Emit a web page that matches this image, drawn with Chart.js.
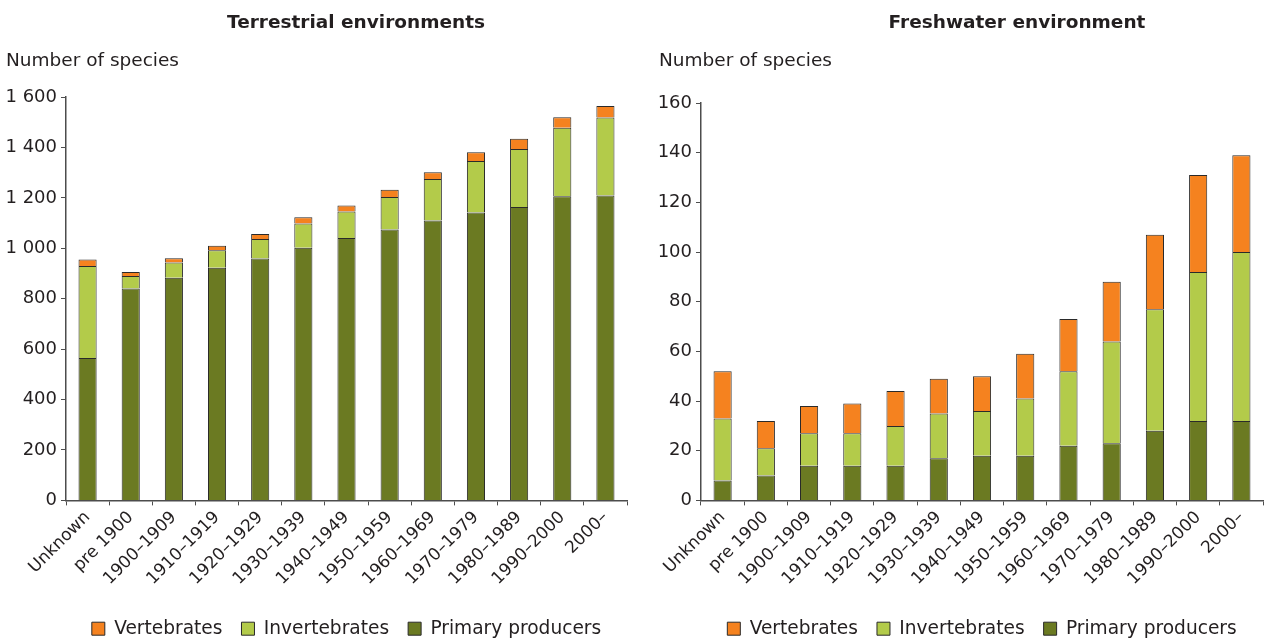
<!DOCTYPE html>
<html>
<head>
<meta charset="utf-8">
<script src="https://cdn.jsdelivr.net/npm/chart.js@4.4.1/dist/chart.umd.min.js"></script>
<style>
  html, body { margin: 0; padding: 0; background: #fff; }
  #wrap { position: relative; width: 1264px; height: 639px; }
  .box { position: absolute; top: 0; height: 639px; }
  #left { left: 0; width: 640px; }
  #right { left: 640px; width: 624px; }
</style>
</head>
<body>
<div id="wrap">
  <div class="box" id="left"><canvas id="terrestrialChart"></canvas></div>
  <div class="box" id="right"><canvas id="freshwaterChart"></canvas></div>
</div>
<script>
// Categories (decade of first record)
const periods = ['Unknown', 'pre 1900', '1900–1909', '1910–1919', '1920–1929', '1930–1939',
    '1940–1949', '1950–1959', '1960–1969', '1970–1979', '1980–1989', '1990–2000', '2000–'];

// Terrestrial environments (cumulative number of species)
const terrestrialPrimary = [565, 840, 883, 923, 959, 1002, 1041, 1074, 1110, 1142, 1164, 1206, 1209];
const terrestrialInvert  = [365, 50, 61, 69, 78, 96, 105, 129, 165, 204, 230, 272, 310];
const terrestrialVert    = [25, 16, 16, 18, 20, 25, 24, 29, 27, 35, 40, 42, 45];

// Freshwater environment
const freshwaterPrimary = [8, 10, 14, 14, 14, 17, 18, 18, 22, 23, 28, 32, 32];
const freshwaterInvert  = [25, 11, 13, 13, 16, 18, 18, 23, 30, 41, 49, 60, 68];
const freshwaterVert    = [19, 11, 11, 12, 14, 14, 14, 18, 21, 24, 30, 39, 39];

const textColor = '#231f20';
const axisColor = '#4d4d4d';
const fontFamily = '"DejaVu Sans", Verdana, sans-serif';

// space as thousands separator: 1 600
const fmt = v => String(v).replace(/\B(?=(\d{3})+(?!\d))/g, ' ');

// title + "Number of species" drawn as horizontal text above the plot
const headerText = {
    id: 'headerText',
    afterDraw(chart, args, opts) {
        const ctx = chart.ctx;
        ctx.save();
        ctx.fillStyle = textColor;
        ctx.textBaseline = 'middle';
        ctx.font = 'bold 18.5px ' + fontFamily;
        ctx.textAlign = 'center';
        ctx.fillText(opts.title, opts.titleX, 23);
        ctx.font = '18.5px ' + fontFamily;
        ctx.textAlign = 'left';
        ctx.fillText(opts.unit, opts.unitX, 61);
        ctx.restore();
    }
};

function makeChart(canvasId, cfg) {
    const ctx = document.getElementById(canvasId).getContext('2d');
    return new Chart(ctx, {
        type: 'bar',
        data: {
            labels: periods,
            datasets: [{
                label: 'Primary producers',
                data: cfg.primary,
                backgroundColor: '#6b7a22'
            }, {
                label: 'Invertebrates',
                data: cfg.invert,
                backgroundColor: '#b3cb4a'
            }, {
                label: 'Vertebrates',
                data: cfg.vert,
                backgroundColor: '#f5821f'
            }].map(ds => Object.assign(ds, {
                borderColor: '#2a2a2a',
                borderWidth: 1,
                barPercentage: 0.42,
                categoryPercentage: 1.0
            }))
        },
        options: {
            responsive: true,
            maintainAspectRatio: false,
            animation: false,
            layout: {
                padding: { top: cfg.top, left: cfg.left, right: cfg.right, bottom: -9 }
            },
            plugins: {
                legend: {
                    position: 'bottom',
                    reverse: true,
                    fullSize: false,
                    labels: {
                        boxWidth: 13,
                        boxHeight: 13,
                        padding: 19,
                        color: textColor,
                        font: { family: fontFamily, size: 18.6 }
                    }
                },
                tooltip: { enabled: false },
                headerText: {
                    title: cfg.title,
                    titleX: cfg.titleX,
                    unit: 'Number of species',
                    unitX: cfg.unitX
                }
            },
            scales: {
                x: {
                    stacked: true,
                    afterFit: s => { s.height = 100; },
                    border: { color: axisColor, width: 1.5 },
                    grid: { drawOnChartArea: false, drawTicks: true, tickLength: 5, color: axisColor },
                    ticks: {
                        color: textColor,
                        padding: 2,
                        font: { family: fontFamily, size: 17 },
                        minRotation: 45,
                        maxRotation: 45,
                        autoSkip: false
                    }
                },
                y: {
                    stacked: true,
                    min: 0,
                    max: cfg.max,
                    afterFit: s => { s.width = cfg.axisWidth; },
                    border: { color: axisColor, width: 1.5 },
                    grid: { drawOnChartArea: false, drawTicks: true, tickLength: 5, color: axisColor },
                    ticks: {
                        stepSize: cfg.step,
                        color: textColor,
                        padding: 4,
                        font: { family: fontFamily, size: 18 },
                        callback: v => fmt(v)
                    }
                }
            }
        },
        plugins: [headerText]
    });
}

makeChart('terrestrialChart', {
    primary: terrestrialPrimary, invert: terrestrialInvert, vert: terrestrialVert,
    max: 1600, step: 200, top: 97, left: 6, right: 13, axisWidth: 60,
    title: 'Terrestrial environments', titleX: 356, unitX: 6
});

makeChart('freshwaterChart', {
    primary: freshwaterPrimary, invert: freshwaterInvert, vert: freshwaterVert,
    max: 160, step: 20, top: 103, left: 19, right: 1, axisWidth: 42,
    title: 'Freshwater environment', titleX: 377, unitX: 19
});
</script>
</body>
</html>
